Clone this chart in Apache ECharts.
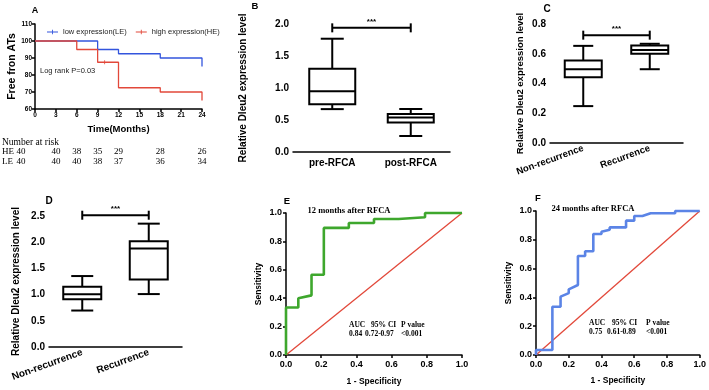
<!DOCTYPE html>
<html>
<head>
<meta charset="utf-8">
<script src="https://cdn.jsdelivr.net/npm/echarts@6/dist/echarts.min.js"></script>
<style>
  html, body { margin: 0; padding: 0; background: #fff; }
  #main { width: 709px; height: 390px; }
</style>
</head>
<body>
<div id="main"></div>
<script>
// A: survival curves (months, % free from ATs)
const leCurve = [[0, 100], [9, 95], [12, 92.5], [18, 90], [24, 85]];
const heCurve = [[0, 100], [6, 95], [9, 87.5], [12, 72.5], [18, 70], [24, 65]];
const heCensor = [[10, 87.5]];
const riskMonths = [0, 3, 6, 9, 12, 18, 24];
const heRisk = [40, 40, 38, 35, 29, 28, 26];
const leRisk = [40, 40, 40, 38, 37, 36, 34];

// B/C/D: boxplots [min, Q1, median, Q3, max]
const bCats = ['pre-RFCA', 'post-RFCA'];
const bBoxes = [[0.67, 0.745, 0.95, 1.30, 1.77], [0.25, 0.46, 0.54, 0.594, 0.672]];
const bSig = 1.94;
const cCats = ['Non-recurrence', 'Recurrence'];
const cBoxes = [[0.248, 0.442, 0.496, 0.554, 0.653], [0.496, 0.60, 0.626, 0.656, 0.667]];
const cSig = 0.725;
const dCats = ['Non-recurrence', 'Recurrence'];
const dBoxes = [[0.696, 0.91, 1.006, 1.15, 1.354], [1.01, 1.29, 1.88, 2.02, 2.354]];
const dSig = 2.515;

// E/F: ROC curves [1 - specificity, sensitivity]
const eRoc = [[0, 0], [0, 0.335], [0.07, 0.335], [0.07, 0.40], [0.145, 0.42], [0.145, 0.565],
  [0.215, 0.565], [0.215, 0.895], [0.357, 0.895], [0.357, 0.93], [0.5, 0.93], [0.5, 0.958],
  [0.64, 0.958], [0.64, 0.97], [0.79, 0.97], [0.79, 1], [1, 1]];
const fRoc = [[0, 0], [0, 0.035], [0.1, 0.035], [0.1, 0.335], [0.15, 0.335], [0.15, 0.405],
  [0.2, 0.43], [0.2, 0.456], [0.256, 0.486], [0.256, 0.687], [0.3, 0.687], [0.3, 0.72],
  [0.35, 0.72], [0.35, 0.84], [0.4, 0.84], [0.4, 0.856], [0.45, 0.87], [0.45, 0.886],
  [0.55, 0.886], [0.55, 0.933], [0.6, 0.933], [0.6, 0.965], [0.65, 0.965], [0.7, 0.984],
  [0.85, 0.984], [0.85, 1], [1, 1]];
const diag = [[0, 0], [1, 1]];

const SANS = 'Liberation Sans';
const SERIF = 'Liberation Serif';
const BLUE = '#3355dd';
const RED = '#e2483a';

const chart = echarts.init(document.getElementById('main'));

function axis(gridIndex, o) {
  return Object.assign({
    gridIndex: gridIndex,
    splitLine: { show: false },
    axisLine: { onZero: false, lineStyle: { color: '#000', width: 1.5 } },
    axisTick: { length: 3, alignWithLabel: true, lineStyle: { color: '#000', width: 1.5 } },
    axisLabel: { color: '#000', fontWeight: 'bold', fontFamily: SANS, fontSize: o.fs || 10, margin: o.margin || 4,
      rotate: o.rotate || 0, formatter: o.fmt },
    nameLocation: 'middle',
    nameTextStyle: { color: '#000', fontWeight: 'bold', fontFamily: SANS, fontSize: o.nfs || 10 }
  }, o.opt);
}
const f1 = v => v.toFixed(1);

function boxItem(boxW, capW) {
  return function (params, api) {
    const x = api.value(0);
    const pMin = api.coord([x, api.value(1)]);
    const pQ1 = api.coord([x, api.value(2)]);
    const pMed = api.coord([x, api.value(3)]);
    const pQ3 = api.coord([x, api.value(4)]);
    const pMax = api.coord([x, api.value(5)]);
    const cx = pMin[0], hw = boxW / 2, hc = capW / 2;
    const st = { stroke: '#000', lineWidth: 2 };
    return {
      type: 'group', children: [
        { type: 'line', shape: { x1: cx, y1: pMin[1], x2: cx, y2: pQ1[1] }, style: st },
        { type: 'line', shape: { x1: cx, y1: pQ3[1], x2: cx, y2: pMax[1] }, style: st },
        { type: 'line', shape: { x1: cx - hc, y1: pMin[1], x2: cx + hc, y2: pMin[1] }, style: st },
        { type: 'line', shape: { x1: cx - hc, y1: pMax[1], x2: cx + hc, y2: pMax[1] }, style: st },
        { type: 'rect', shape: { x: cx - hw, y: pQ3[1], width: boxW, height: pQ1[1] - pQ3[1] },
          style: { stroke: '#000', lineWidth: 2, fill: '#fff' } },
        { type: 'line', shape: { x1: cx - hw, y1: pMed[1], x2: cx + hw, y2: pMed[1] }, style: st }
      ]
    };
  };
}
function boxSeries(idx, boxes, boxW, capW) {
  return {
    type: 'custom', xAxisIndex: idx, yAxisIndex: idx, silent: true,
    renderItem: boxItem(boxW, capW),
    encode: { x: 0, y: [1, 2, 3, 4, 5] },
    data: boxes.map((b, i) => [i].concat(b))
  };
}
function sigSeries(idx, y) {
  return {
    type: 'line', xAxisIndex: idx, yAxisIndex: idx, silent: true, clip: false,
    data: [[0, y], [1, y]], symbol: 'rect', symbolSize: [2, 9], showSymbol: true,
    lineStyle: { color: '#000', width: 2 }, itemStyle: { color: '#000' }, z: 5
  };
}

// legend marker: short line with a small censor tick
const KM_ICON = 'path://M0,4.2h20v1.6h-20z M9.2,1h1.6v8h-1.6z';

const option = {
  animation: false,
  textStyle: { fontFamily: SANS },
  grid: [
    { left: 35, top: 24, width: 167, height: 85 },
    { left: 293, top: 24, width: 157, height: 128 },
    { left: 550, top: 24, width: 133, height: 119 },
    { left: 49, top: 216, width: 133, height: 131 },
    { left: 286, top: 213, width: 176, height: 142 },
    { left: 536, top: 211, width: 166, height: 144 }
  ],
  legend: {
    left: 47, top: 28, padding: 0, itemGap: 9, itemWidth: 11, itemHeight: 5,
    textStyle: { fontSize: 7.5, color: '#222', fontFamily: SANS },
    data: [{ name: 'low expression(LE)', icon: KM_ICON }, { name: 'high expression(HE)', icon: KM_ICON }]
  },
  xAxis: [
    axis(0, { fs: 6.5, margin: 3, nfs: 9.5, opt: { type: 'value', min: 0, max: 24, interval: 3, name: 'Time(Months)', nameGap: 15 } }),
    axis(1, { fs: 10, margin: 6, opt: { type: 'category', data: bCats } }),
    axis(2, { fs: 9.5, margin: 5, rotate: 20, opt: { type: 'category', data: cCats } }),
    axis(3, { fs: 10, margin: 5, rotate: 20, opt: { type: 'category', data: dCats } }),
    axis(4, { fs: 9, margin: 5, fmt: f1, nfs: 8.5, opt: { type: 'value', min: 0, max: 1, interval: 0.2, name: '1 - Specificity', nameGap: 22 } }),
    axis(5, { fs: 9, margin: 5, fmt: f1, nfs: 8.5, opt: { type: 'value', min: 0, max: 1, interval: 0.2, name: '1 - Specificity', nameGap: 21 } })
  ],
  yAxis: [
    axis(0, { fs: 6.5, margin: 3, nfs: 10.5, opt: { type: 'value', min: 60, max: 110, interval: 10, name: 'Free fron ATs', nameGap: 14 } }),
    axis(1, { fs: 10, fmt: f1, nfs: 10, opt: { type: 'value', min: 0, max: 2, interval: 0.5, name: 'Relative Dleu2 expression level', nameGap: 45 } }),
    axis(2, { fs: 10, fmt: f1, nfs: 9.5, opt: { type: 'value', min: 0, max: 0.8, interval: 0.2, name: 'Relative Dleu2 expression level', nameGap: 25 } }),
    axis(3, { fs: 10, fmt: f1, nfs: 10, opt: { type: 'value', min: 0, max: 2.5, interval: 0.5, name: 'Relative Dleu2 expression level', nameGap: 28 } }),
    axis(4, { fs: 9, fmt: f1, nfs: 8.5, opt: { type: 'value', min: 0, max: 1, interval: 0.2, name: 'Sensitivity', nameGap: 23 } }),
    axis(5, { fs: 9, fmt: f1, nfs: 8.5, opt: { type: 'value', min: 0, max: 1, interval: 0.2, name: 'Sensitivity', nameGap: 23 } })
  ],
  series: [
    { name: 'low expression(LE)', type: 'line', xAxisIndex: 0, yAxisIndex: 0, step: 'end', data: leCurve,
      symbol: 'none', color: BLUE, lineStyle: { width: 1.3 } },
    { name: 'high expression(HE)', type: 'line', xAxisIndex: 0, yAxisIndex: 0, step: 'end', data: heCurve,
      symbol: 'none', color: RED, lineStyle: { width: 1.3 } },
    { type: 'scatter', xAxisIndex: 0, yAxisIndex: 0, data: heCensor, symbol: 'rect', symbolSize: [1, 4],
      itemStyle: { color: RED }, silent: true },
    boxSeries(1, bBoxes, 46, 23), sigSeries(1, bSig),
    boxSeries(2, cBoxes, 37, 20), sigSeries(2, cSig),
    boxSeries(3, dBoxes, 38, 22), sigSeries(3, dSig),
    { type: 'line', xAxisIndex: 4, yAxisIndex: 4, data: diag, symbol: 'none', lineStyle: { color: RED, width: 1.3 } },
    { type: 'line', xAxisIndex: 4, yAxisIndex: 4, data: eRoc, symbol: 'none', clip: false,
      lineStyle: { color: '#3ea72d', width: 2.6 }, z: 3 },
    { type: 'line', xAxisIndex: 5, yAxisIndex: 5, data: diag, symbol: 'none', lineStyle: { color: RED, width: 1.3 } },
    { type: 'line', xAxisIndex: 5, yAxisIndex: 5, data: fRoc, symbol: 'none', clip: false,
      lineStyle: { color: '#5b84e6', width: 2.6 }, z: 3 }
  ]
};
chart.setOption(option);

function txt(x, y, s, size, font, opts) {
  return {
    type: 'text', x: x, y: y,
    style: Object.assign({ text: s, fontSize: size, fontFamily: font || SANS, fill: '#000',
      align: 'left', verticalAlign: 'middle' }, opts || {})
  };
}
const B = { fontWeight: 'bold' };
const BC = { fontWeight: 'bold', align: 'center' };
const g = [
  txt(35, 11, 'A', 9, SANS, BC), txt(255, 6, 'B', 9.5, SANS, BC), txt(547, 9, 'C', 10, SANS, BC),
  txt(49, 201, 'D', 10, SANS, BC), txt(287, 201, 'E', 9.5, SANS, BC), txt(538, 198, 'F', 9.5, SANS, BC),
  txt(40, 71, 'Log rank P=0.03', 7.5, SANS, { fill: '#222' }),
  txt(2, 142, 'Number at risk', 9.5, SERIF),
  txt(2, 152, 'HE', 9, SERIF), txt(2, 162, 'LE', 9, SERIF),
  txt(349, 211, '12 months after RFCA', 8.5, SERIF, BC),
  txt(593, 209, '24 months after RFCA', 8.5, SERIF, BC),
  txt(349, 325, 'AUC', 7.5, SERIF, B), txt(371, 325, '95% CI', 7.5, SERIF, B), txt(401, 325, 'P value', 7.5, SERIF, B),
  txt(349, 334, '0.84', 7.5, SERIF, B), txt(365, 334, '0.72-0.97', 7.5, SERIF, B), txt(401, 334, '<0.001', 7.5, SERIF, B),
  txt(589, 323, 'AUC', 7.5, SERIF, B), txt(612, 323, '95% CI', 7.5, SERIF, B), txt(646, 323, 'P value', 7.5, SERIF, B),
  txt(589, 332, '0.75', 7.5, SERIF, B), txt(607, 332, '0.61-0.89', 7.5, SERIF, B), txt(646, 332, '<0.001', 7.5, SERIF, B)
];
// numbers at risk aligned to the month axis
riskMonths.forEach((m, i) => {
  let x = chart.convertToPixel({ xAxisIndex: 0 }, m);
  if (m === 0) x = 21;
  g.push(txt(x, 152, String(heRisk[i]), 9, SERIF, { align: 'center' }));
  g.push(txt(x, 162, String(leRisk[i]), 9, SERIF, { align: 'center' }));
});
// significance stars centred over the bars
[[1, bSig], [2, cSig], [3, dSig]].forEach(([idx, y]) => {
  const p0 = chart.convertToPixel({ xAxisIndex: idx, yAxisIndex: idx }, [0, y]);
  const p1 = chart.convertToPixel({ xAxisIndex: idx, yAxisIndex: idx }, [1, y]);
  g.push(txt((p0[0] + p1[0]) / 2, p0[1] - 6, '***', 8, SANS, BC));
});
chart.setOption({ graphic: g });
</script>
</body>
</html>
